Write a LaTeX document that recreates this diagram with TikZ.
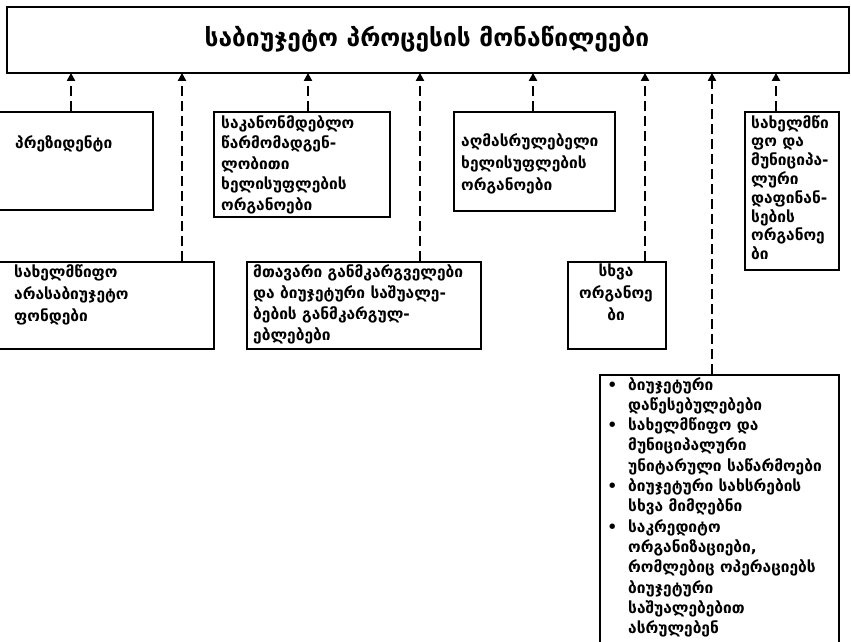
\documentclass[tikz,border=0pt]{standalone}
\usepackage{fontspec}
\setmainfont{DejaVu Sans}
\usetikzlibrary{arrows.meta}
\newcommand{\bodyf}{\fontsize{15.5}{21}\selectfont\bfseries}
\tikzset{
  frame/.style={draw, line width=1.9pt, inner sep=0pt, anchor=north west},
  txt/.style={anchor=north west, inner sep=0pt, align=left, font=\bodyf},
  conn/.style={line width=2.8pt, dash pattern=on 10pt off 5pt, -{Triangle[width=8pt,length=8pt]}, shorten >=-1pt},
}
\begin{document}
\begin{tikzpicture}[x=1pt,y=-1pt]
\useasboundingbox (0,0) rectangle (851,642);
% title
\node[frame, minimum width=842pt, minimum height=66pt] (title) at (6,6) {};
\node[font=\fontsize{24.5}{28}\selectfont\bfseries] (titletext) at (427,39) {საბიუჯეტო პროცესის მონაწილეები};
% row 1
\node[frame, minimum width=164pt, minimum height=98pt] (pres) at (-12,111) {};
\node[txt, anchor=west] (prest) at (15,144) {პრეზიდენტი};
\node[frame, minimum width=176pt, minimum height=105pt] (leg) at (213,111) {};
\node[txt, font=\fontsize{15.5}{20.5}\selectfont\bfseries] (legt) at (221,115) {საკანონმდებლო\\წარმომადგენ-\\ლობითი\\ხელისუფლების\\ორგანოები};
\node[frame, minimum width=161pt, minimum height=99pt] (exec) at (453,111) {};
\node[txt, font=\fontsize{15.5}{22}\selectfont\bfseries] (exect) at (461,133) {აღმასრულებელი\\ხელისუფლების\\ორგანოები};
\node[frame, minimum width=94pt, minimum height=158pt] (muni) at (744,111) {};
\node[txt, font=\fontsize{15.5}{18.8}\selectfont\bfseries] (munit) at (751,115) {სახელმწი\\ფო და\\მუნიციპა-\\ლური\\დაფინან-\\სების\\ორგანოე\\ბი};
% row 2
\node[frame, minimum width=225pt, minimum height=87pt] (fund) at (-12,261) {};
\node[txt, font=\fontsize{15.5}{22}\selectfont\bfseries] (fundt) at (14,264) {სახელმწიფო\\არასაბიუჯეტო\\ფონდები};
\node[frame, minimum width=234pt, minimum height=87pt] (mainb) at (246,261) {};
\node[txt] (maint) at (253,264) {მთავარი განმკარგველები\\და ბიუჯეტური საშუალე-\\ბების განმკარგულ-\\ებლებები};
\node[frame, minimum width=98pt, minimum height=87pt] (other) at (567,261) {};
\node[txt, anchor=north, align=center, font=\fontsize{15.5}{22}\selectfont\bfseries] (othert) at (616,264) {სხვა\\ორგანოე\\ბი};
% bullets
\node[frame, minimum width=239pt, minimum height=290pt] (bul) at (599,374) {};
\node[txt, font=\fontsize{15.5}{20.3}\selectfont\bfseries] (bult) at (628,377) {%
\llap{\textbullet\hspace{11pt}}ბიუჯეტური\\დაწესებულებები\\
\llap{\textbullet\hspace{11pt}}სახელმწიფო და\\მუნიციპალური\\უნიტარული საწარმოები\\
\llap{\textbullet\hspace{11pt}}ბიუჯეტური სახსრების\\სხვა მიმღებნი\\
\llap{\textbullet\hspace{11pt}}საკრედიტო\\ორგანიზაციები,\\რომლებიც ოპერაციებს\\ბიუჯეტური\\საშუალებებით\\ასრულებენ};
% connectors
\coordinate (c1) at (71,0);
\coordinate (c2) at (182,0);
\coordinate (c3) at (308,0);
\coordinate (c4) at (420,0);
\coordinate (c5) at (533,0);
\coordinate (c6) at (645,0);
\coordinate (c7) at (712,0);
\coordinate (c8) at (776,0);
\draw[conn] (c1 |- pres.north) -- (c1 |- title.south);
\draw[conn] (c2 |- fund.north) -- (c2 |- title.south);
\draw[conn] (c3 |- leg.north) -- (c3 |- title.south);
\draw[conn] (c4 |- mainb.north) -- (c4 |- title.south);
\draw[conn] (c5 |- exec.north) -- (c5 |- title.south);
\draw[conn] (c6 |- other.north) -- (c6 |- title.south);
\draw[conn] (c7 |- bul.north) -- (c7 |- title.south);
\draw[conn] (c8 |- muni.north) -- (c8 |- title.south);
\end{tikzpicture}
\end{document}
